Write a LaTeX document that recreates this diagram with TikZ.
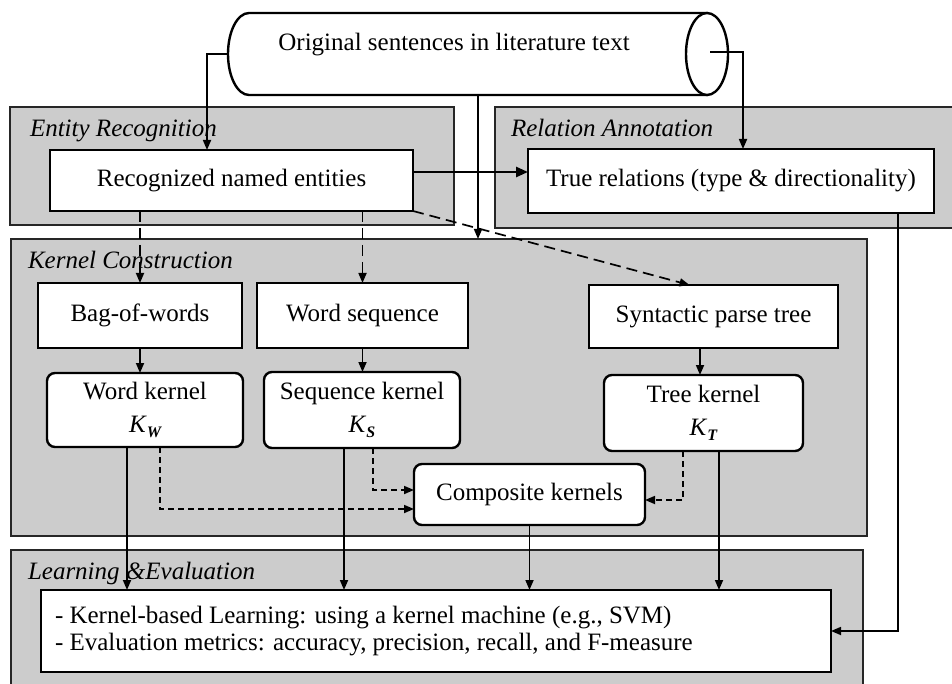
\documentclass[tikz,border=0pt]{standalone}
\usepackage{fontspec}
\setmainfont{Liberation Serif}
\usetikzlibrary{arrows.meta,calc}
\newcommand{\ksym}[1]{\textit{K}\raisebox{-5pt}{\fontsize{16}{16}\selectfont\bfseries\itshape #1}}
\begin{document}
\begin{tikzpicture}[x=1pt,y=-1pt,
  every node/.style={inner sep=0pt, outer sep=0pt, font=\fontsize{25}{33}\selectfont},
  panel/.style={draw=black!85, line width=2.6pt, fill=black!20},
  box/.style={draw=black, line width=2.4pt, fill=white, align=center},
  rbox/.style={box, rounded corners=8pt},
  tag/.style={anchor=west, font=\fontsize{25}{28}\selectfont\itshape},
  conn/.style={line width=1.7pt, -{Triangle[length=10pt,width=8pt]}},
  thickconn/.style={line width=2.6pt, -{Triangle[length=12pt,width=10pt]}},
  dconn/.style={conn, dash pattern=on 11pt off 6pt},
  sconn/.style={conn, dash pattern=on 6pt off 4pt}]
\useasboundingbox (0,0) rectangle (952,684);
\fill[white] (0,0) rectangle (952,684);

% stage panels
\node[panel, minimum width=444pt, minimum height=118pt] (er) at (232,166) {};
\node[panel, minimum width=465pt, minimum height=121pt] (ra) at (727.5,167.5) {};
\node[panel, minimum width=856pt, minimum height=297pt] (kc) at (439,387.5) {};
\node[panel, minimum width=852pt, minimum height=150pt] (le) at (437,625) {};

\node[tag] at (30,131) {Entity Recognition};
\node[tag] at (511,128) {Relation Annotation};
\node[tag] at (28,260) {Kernel Construction};
\node[tag] at (28,573) {Learning \&Evaluation};

% source text store (cylinder)
\node[minimum width=500pt, minimum height=82pt] (src) at (478,54) {};
\path[box] (249,13) -- (707,13) -- (707,95) -- (249,95)
  arc[start angle=270, end angle=90, x radius=21pt, y radius=41pt] -- cycle;
\draw[line width=2.4pt, fill=white] (707,54) ellipse [x radius=21pt, y radius=41pt];
\node at (454,45) {Original sentences in literature text};
\coordinate (srcR) at (710,52);

% boxes
\node[box, minimum width=363pt, minimum height=61pt] (rne) at (231.5,180.5) {Recognized named entities};
\node[box, minimum width=406pt, minimum height=64pt] (tr) at (731,181) {True relations (type \& directionality)};
\node[box, minimum width=204pt, minimum height=65pt] (bow) at (140,315.5) {Bag-of-words};
\node[box, minimum width=211pt, minimum height=65pt] (ws) at (362.5,315.5) {Word sequence};
\node[box, minimum width=249pt, minimum height=63pt] (spt) at (713.5,316.5) {Syntactic parse tree};
\node[rbox, minimum width=196pt, minimum height=74pt] (wk) at (145,410) {Word kernel\\\ksym{W}};
\node[rbox, minimum width=196pt, minimum height=76pt] (sk) at (362,410) {Sequence kernel\\\ksym{S}};
\node[rbox, minimum width=199pt, minimum height=76pt] (tk) at (703.5,413) {Tree kernel\\\ksym{T}};
\node[rbox, minimum width=231pt, minimum height=61pt] (comp) at (529.5,494.5) {Composite kernels};
\node[box, minimum width=790pt, minimum height=82pt] (lebox) at (436,631) {};
\node[anchor=west, align=left, font=\fontsize{25}{27}\selectfont] at (55,631)
  {- Kernel-based Learning: using a kernel machine (e.g., SVM)\\
   - Evaluation metrics: accuracy, precision, recall, and F-measure};

% connectors from the text store
\draw[conn] (src.west) -| ([xshift=-24.5pt]rne.north);
\draw[conn] (srcR) -| ([xshift=12pt]tr.north);
\draw[conn] (src.south) -- (src.south |- kc.north);
\coordinate (a) at ([yshift=8.5pt]rne.east);
\draw[thickconn] (a) -- (a -| tr.west);

% entities to representations
\draw[dconn] (bow.north |- rne.south) -- (bow.north);
\draw[dconn] (ws.north |- rne.south) -- (ws.north);
\draw[dconn] (rne.south east) -- ([xshift=-24pt]spt.north);

% representations to kernels
\draw[conn] (bow.south) -- (bow.south |- wk.north);
\draw[conn] (ws.south) -- (ws.south |- sk.north);
\coordinate (t1) at ([xshift=-3.5pt]tk.north);
\draw[conn] (t1 |- spt.south) -- (t1);

% kernels to composite kernels and to learning
\coordinate (w1) at ([xshift=-18pt]wk.south);
\coordinate (w2) at ([xshift=15pt]wk.south);
\coordinate (s1) at ([xshift=-18pt]sk.south);
\coordinate (s2) at ([xshift=11pt]sk.south);
\coordinate (t2) at ([xshift=-20.5pt]tk.south);
\coordinate (t3) at ([xshift=15.5pt]tk.south);
\coordinate (c1) at ([yshift=-14.5pt]comp.west);
\coordinate (c2) at ([yshift=4.5pt]comp.west);
\coordinate (c3) at ([yshift=-5.5pt]comp.east);
\draw[sconn] (w2) |- (c1);
\draw[sconn] (s2) |- (c2);
\draw[sconn] (t2) |- (c3);
\draw[conn] (w1) -- (w1 |- lebox.north);
\draw[conn] (s1) -- (s1 |- lebox.north);
\draw[conn] (t3) -- (t3 |- lebox.north);
\draw[conn] (comp.south) -- (comp.south |- lebox.north);

% annotations to evaluation
\coordinate (r1) at ([xshift=167pt]tr.south);
\draw[conn] (r1) |- (lebox.east);
\end{tikzpicture}
\end{document}
